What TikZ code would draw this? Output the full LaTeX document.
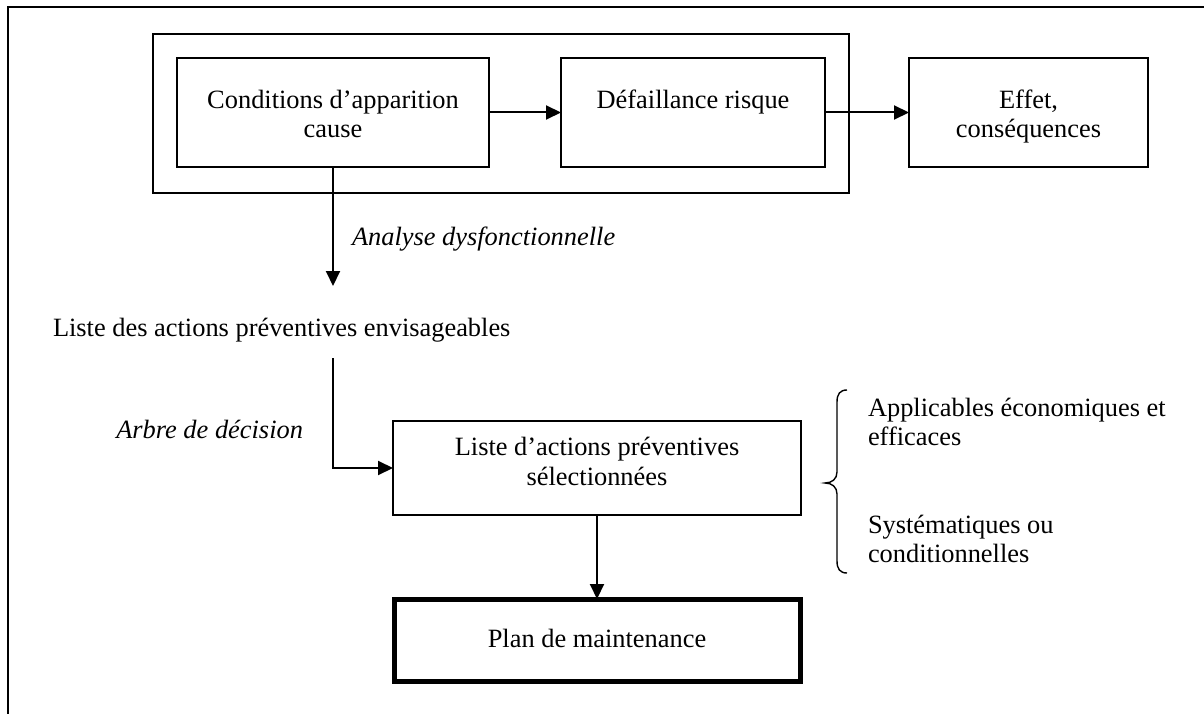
\documentclass[tikz,border=0pt]{standalone}
\usepackage{fontspec}
\setmainfont{Liberation Serif}
\usetikzlibrary{arrows.meta}
\begin{document}
\begin{tikzpicture}[x=1pt,y=-1pt,
  every node/.style={inner sep=0pt,outer sep=0pt},
  txt/.style={anchor=base,font=\fontsize{26.4}{29.5}\selectfont},
  itxt/.style={txt,font=\fontsize{26.4}{29.5}\selectfont\itshape},
  box/.style={draw,line width=1.6pt,minimum width=#1},
  thickbox/.style={draw,line width=5pt,minimum width=#1},
  conn/.style={line width=2pt,-{Triangle[length=15pt,width=14pt]}}]
\useasboundingbox (0,0) rectangle (1204,714);

% page frame (top and left rules)
\draw[line width=2.2pt] (8,714) -- (8,7) -- (1204,7);

% group around cause and failure
\node[box=696pt,minimum height=159pt] (grp) at (501,113.5) {};

% top row of boxes
\node[box=312pt,minimum height=109pt] (b1) at (333,112.5) {};
\node[box=264pt,minimum height=109pt] (b2) at (693,112.5) {};
\node[box=239pt,minimum height=109pt] (b3) at (1028.5,112.5) {};
\node[txt] (b1l1) at (333,109) {Conditions d’apparition};
\node[txt] (b1l2) at (333,138) {cause};
\node[txt] (b2l1) at (693,109) {Défaillance risque};
\node[txt] (b3l1) at (1028.5,109) {Effet,};
\node[txt] (b3l2) at (1028.5,138) {conséquences};

\draw[conn] (b1.east) -- (b2.west);
\draw[conn] (b2.east) -- (b3.west);

% dysfunctional analysis
\coordinate (a1) at (333,286);
\draw[conn] (b1.south) -- (a1);
\node[itxt,anchor=base west] (lab1) at (352,245) {Analyse dysfonctionnelle};

\node[txt,anchor=base west] (lst) at (53,336) {Liste des actions préventives envisageables};

% decision tree
\coordinate (c2) at (333,358);
\node[box=408pt,minimum height=94pt] (b4) at (597,468) {};
\node[txt] (b4l1) at (597,455) {Liste d’actions préventives};
\node[txt] (b4l2) at (597,485) {sélectionnées};
\draw[conn] (c2) |- (b4.west);
\node[itxt,anchor=base east] (lab2) at (303,438) {Arbre de décision};

% maintenance plan
\node[thickbox=406pt,minimum height=82pt] (b5) at (597,640) {};
\node[txt] (b5l1) at (597,647) {Plan de maintenance};
\draw[conn] (b4.south) -- (b5.north);

% brace with selection criteria
\draw[line width=1.4pt] (847,390) .. controls (840,390) and (837,394) .. (837,402)
  -- (837,472) .. controls (837,479) and (832,483) .. (825,483)
  .. controls (832,483) and (837,487) .. (837,494)
  -- (837,561) .. controls (837,569) and (840,573) .. (847,573);
\node[txt,anchor=base west] (cr1) at (868,416) {Applicables économiques et};
\node[txt,anchor=base west] (cr2) at (868,445) {efficaces};
\node[txt,anchor=base west] (cr3) at (868,533) {Systématiques ou};
\node[txt,anchor=base west] (cr4) at (868,562) {conditionnelles};
\end{tikzpicture}
\end{document}
